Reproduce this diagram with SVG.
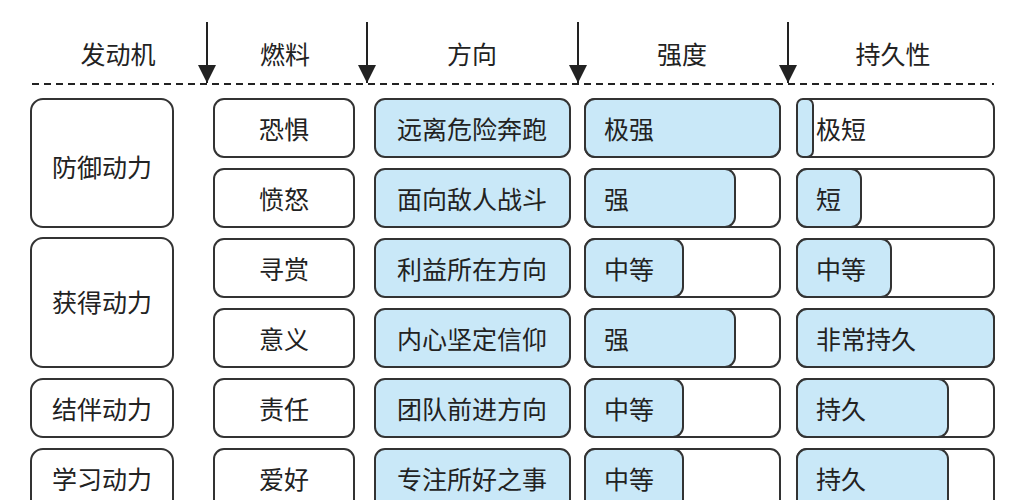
<svg xmlns="http://www.w3.org/2000/svg" width="1013" height="500" viewBox="0 0 1013 500">
<defs>
<style>
text{font-family:"Noto Sans CJK SC",sans-serif;font-size:25px;fill:#222;dominant-baseline:central}
.b{fill:#fff;stroke:#333;stroke-width:2}
.f{fill:#c9e8f8;stroke:#333;stroke-width:2}
.c{text-anchor:middle}
</style>
<marker id="a" viewBox="0 0 10 10" refX="10" refY="5" markerWidth="20" markerHeight="18" markerUnits="userSpaceOnUse" orient="auto"><path d="M0,0L10,5L0,10z" fill="#222"/></marker>
</defs>
<rect width="1013" height="500" fill="#fff"/>
<g id="header">
<text class="c" x="118" y="53">发动机</text>
<text class="c" x="285" y="53">燃料</text>
<text class="c" x="472" y="53">方向</text>
<text class="c" x="682" y="53">强度</text>
<text class="c" x="893" y="53">持久性</text>
</g>
<g id="connectors" stroke="#222" stroke-width="2">
<line x1="32" y1="84" x2="994" y2="84" stroke-dasharray="7,5"/>
<line x1="207" y1="22" x2="207" y2="83" marker-end="url(#a)"/>
<line x1="367" y1="22" x2="367" y2="83" marker-end="url(#a)"/>
<line x1="578" y1="22" x2="578" y2="83" marker-end="url(#a)"/>
<line x1="788" y1="22" x2="788" y2="83" marker-end="url(#a)"/>
</g>
<g id="engines">
<g id="e1"><rect class="b" x="31" y="99" width="142" height="128" rx="12"/><text class="c" x="102" y="166">防御动力</text></g>
<g id="e2"><rect class="b" x="31" y="238" width="142" height="129" rx="12"/><text class="c" x="102" y="301">获得动力</text></g>
<g id="e3"><rect class="b" x="31" y="379" width="142" height="58" rx="12"/><text class="c" x="102" y="408">结伴动力</text></g>
<g id="e4"><rect class="b" x="31" y="449" width="142" height="70" rx="12"/><text class="c" x="102" y="478">学习动力</text></g>
</g>
<g id="fuel">
<g id="f1"><rect class="b" x="214" y="99" width="140" height="58" rx="10"/><text class="c" x="284" y="128">恐惧</text></g>
<g id="f2"><rect class="b" x="214" y="169" width="140" height="58" rx="10"/><text class="c" x="284" y="198">愤怒</text></g>
<g id="f3"><rect class="b" x="214" y="239" width="140" height="58" rx="10"/><text class="c" x="284" y="268">寻赏</text></g>
<g id="f4"><rect class="b" x="214" y="309" width="140" height="58" rx="10"/><text class="c" x="284" y="338">意义</text></g>
<g id="f5"><rect class="b" x="214" y="379" width="140" height="58" rx="10"/><text class="c" x="284" y="408">责任</text></g>
<g id="f6"><rect class="b" x="214" y="449" width="140" height="70" rx="10"/><text class="c" x="284" y="478">爱好</text></g>
</g>
<g id="direction">
<g id="d1"><rect class="f" x="375" y="99" width="195" height="58" rx="10"/><text class="c" x="472" y="128">远离危险奔跑</text></g>
<g id="d2"><rect class="f" x="375" y="169" width="195" height="58" rx="10"/><text class="c" x="472" y="198">面向敌人战斗</text></g>
<g id="d3"><rect class="f" x="375" y="239" width="195" height="58" rx="10"/><text class="c" x="472" y="268">利益所在方向</text></g>
<g id="d4"><rect class="f" x="375" y="309" width="195" height="58" rx="10"/><text class="c" x="472" y="338">内心坚定信仰</text></g>
<g id="d5"><rect class="f" x="375" y="379" width="195" height="58" rx="10"/><text class="c" x="472" y="408">团队前进方向</text></g>
<g id="d6"><rect class="f" x="375" y="449" width="195" height="70" rx="10"/><text class="c" x="472" y="478">专注所好之事</text></g>
</g>
<g id="strength">
<g id="s1"><rect class="b" x="585" y="99" width="195" height="58" rx="10"/><rect class="f" x="585" y="99" width="195" height="58" rx="10"/><text x="604" y="128">极强</text></g>
<g id="s2"><rect class="b" x="585" y="169" width="195" height="58" rx="10"/><rect class="f" x="585" y="169" width="150" height="58" rx="10"/><text x="604" y="198">强</text></g>
<g id="s3"><rect class="b" x="585" y="239" width="195" height="58" rx="10"/><rect class="f" x="585" y="239" width="98" height="58" rx="10"/><text x="604" y="268">中等</text></g>
<g id="s4"><rect class="b" x="585" y="309" width="195" height="58" rx="10"/><rect class="f" x="585" y="309" width="150" height="58" rx="10"/><text x="604" y="338">强</text></g>
<g id="s5"><rect class="b" x="585" y="379" width="195" height="58" rx="10"/><rect class="f" x="585" y="379" width="98" height="58" rx="10"/><text x="604" y="408">中等</text></g>
<g id="s6"><rect class="b" x="585" y="449" width="195" height="70" rx="10"/><rect class="f" x="585" y="449" width="98" height="70" rx="10"/><text x="604" y="478">中等</text></g>
</g>
<g id="persistence">
<g id="p1"><rect class="b" x="797" y="99" width="197" height="58" rx="10"/><rect class="f" x="797" y="99" width="16" height="58" rx="6"/><text x="816" y="128">极短</text></g>
<g id="p2"><rect class="b" x="797" y="169" width="197" height="58" rx="10"/><rect class="f" x="797" y="169" width="64" height="58" rx="10"/><text x="816" y="198">短</text></g>
<g id="p3"><rect class="b" x="797" y="239" width="197" height="58" rx="10"/><rect class="f" x="797" y="239" width="94" height="58" rx="10"/><text x="816" y="268">中等</text></g>
<g id="p4"><rect class="b" x="797" y="309" width="197" height="58" rx="10"/><rect class="f" x="797" y="309" width="197" height="58" rx="10"/><text x="816" y="338">非常持久</text></g>
<g id="p5"><rect class="b" x="797" y="379" width="197" height="58" rx="10"/><rect class="f" x="797" y="379" width="151" height="58" rx="10"/><text x="816" y="408">持久</text></g>
<g id="p6"><rect class="b" x="797" y="449" width="197" height="70" rx="10"/><rect class="f" x="797" y="449" width="151" height="70" rx="10"/><text x="816" y="478">持久</text></g>
</g>
</svg>
